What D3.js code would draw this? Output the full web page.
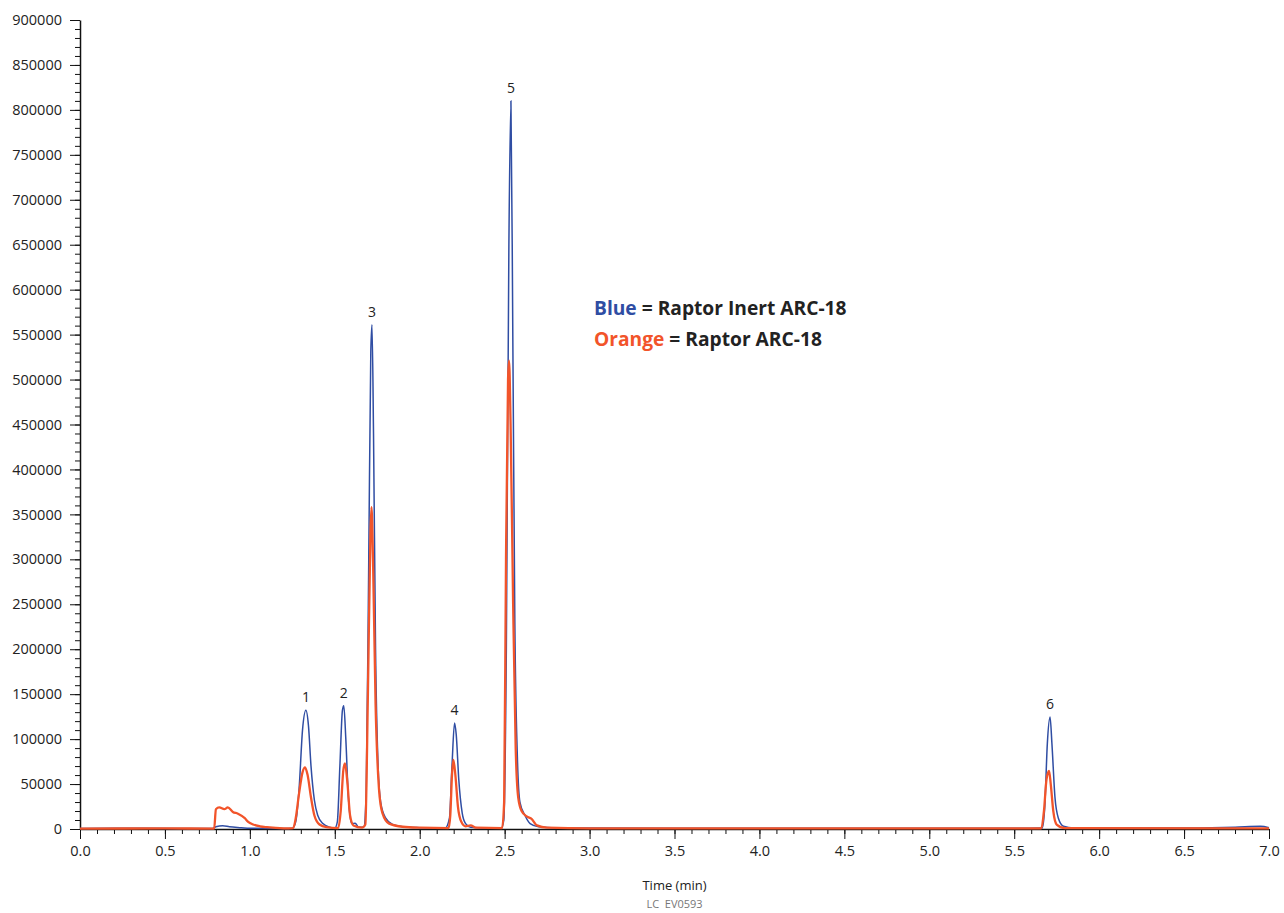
<!DOCTYPE html>
<html>
  <head>
    <meta charset="utf-8">
    <title>Raptor Inert ARC-18 vs Raptor ARC-18</title>
    <script src="https://d3js.org/d3.v7.min.js"></script>
    <style type="text/css">
    body { margin: 0; background: #fff; }
    text { font-family: "Open Sans", sans-serif; fill: #222; }
    .axis path, .axis line { stroke: #111; }
    </style>
  </head>
  <body>
  <script type="text/javascript">

    // x ticks (min) and y ticks (signal)
    var xTicks = [0, 0.5, 1.0, 1.5, 2.0, 2.5, 3.0, 3.5, 4.0, 4.5, 5.0, 5.5, 6.0, 6.5, 7.0];
    var yTicks = [0, 50000, 100000, 150000, 200000, 250000, 300000, 350000, 400000,
                  450000, 500000, 550000, 600000, 650000, 700000, 750000, 800000, 850000, 900000];

    // blue = Raptor Inert ARC-18, [time, signal]
    var blueTrace = [
      [0, 500], [0.3, 800], [0.6, 600], [0.78, 500], [0.8, 2500], [0.84, 3500], [0.88, 2500],
      [0.95, 1500], [1.0, 800], [1.2, 600], [1.25, 800], [1.27, 8000], [1.29, 45000],
      [1.31, 110000], [1.33, 132000], [1.345, 115000], [1.36, 70000], [1.38, 32000],
      [1.4, 15000], [1.43, 6000], [1.47, 2000], [1.5, 1000], [1.515, 8000], [1.53, 70000],
      [1.545, 132000], [1.553, 137000], [1.565, 100000], [1.58, 35000], [1.6, 6000],
      [1.62, 6500], [1.64, 2000], [1.67, 2000], [1.685, 40000], [1.7, 300000],
      [1.712, 530000], [1.719, 561000], [1.728, 440000], [1.74, 200000], [1.755, 70000],
      [1.77, 30000], [1.8, 12000], [1.84, 5000], [1.9, 2500], [2.0, 1500], [2.15, 1000],
      [2.175, 12000], [2.19, 70000], [2.205, 118000], [2.215, 105000], [2.23, 55000],
      [2.25, 18000], [2.27, 6000], [2.3, 2000], [2.4, 1000], [2.48, 800], [2.495, 10000],
      [2.51, 200000], [2.525, 650000], [2.537, 810000], [2.548, 550000], [2.56, 230000],
      [2.575, 80000], [2.59, 30000], [2.62, 15000], [2.65, 6000], [2.7, 2500], [2.8, 1200],
      [3.5, 800], [4.5, 700], [5.5, 700], [5.665, 1000], [5.68, 25000], [5.695, 95000],
      [5.711, 124500], [5.722, 95000], [5.74, 35000], [5.76, 12000], [5.79, 3000],
      [5.85, 1000], [6.5, 1200], [6.8, 2000], [6.95, 3000], [7.0, 1500]
    ];

    // orange = Raptor ARC-18
    var orangeTrace = [
      [0, 500], [0.5, 600], [0.79, 500], [0.8, 22000], [0.82, 24000], [0.85, 22000],
      [0.87, 24000], [0.9, 19000], [0.93, 17000], [0.97, 12000], [0.99, 8000], [1.02, 5000],
      [1.06, 3000], [1.1, 2000], [1.2, 800], [1.255, 1000], [1.27, 12000], [1.29, 40000],
      [1.31, 63000], [1.325, 68500], [1.34, 60000], [1.36, 35000], [1.38, 15000],
      [1.41, 5000], [1.45, 2000], [1.52, 1000], [1.535, 20000], [1.55, 65000], [1.56, 73000],
      [1.575, 50000], [1.59, 15000], [1.61, 4000], [1.66, 1500], [1.68, 5000],
      [1.695, 150000], [1.71, 330000], [1.716, 358000], [1.725, 300000], [1.74, 140000],
      [1.76, 45000], [1.78, 18000], [1.82, 6000], [1.9, 2500], [2.0, 1500], [2.17, 1000],
      [2.18, 15000], [2.19, 60000], [2.198, 77000], [2.21, 60000], [2.225, 25000],
      [2.245, 8000], [2.27, 3000], [2.3, 4000], [2.33, 1500], [2.485, 1000], [2.497, 30000],
      [2.508, 300000], [2.52, 500000], [2.526, 521000], [2.535, 450000], [2.55, 250000],
      [2.565, 90000], [2.58, 35000], [2.6, 20000], [2.63, 14000], [2.66, 11000],
      [2.69, 4000], [2.75, 1500], [3.0, 800], [5.66, 800], [5.675, 20000], [5.69, 55000],
      [5.705, 64500], [5.715, 50000], [5.73, 20000], [5.75, 5000], [5.8, 1000], [7.0, 800]
    ];

    // peak numbers, placed over the blue apex
    var peakNames = ["1", "2", "3", "4", "5", "6"];
    var peakTimes = [1.33, 1.553, 1.719, 2.205, 2.537, 5.711];
    var peakTops  = [132000, 137000, 561000, 118000, 810000, 124500];

    var width = 1284, height = 913;
    var margin = {top: 20, right: 15, bottom: 84, left: 80};

    var svg = d3.select("body").append("svg")
      .attr("width", width)
      .attr("height", height);

    var x = d3.scaleLinear().domain([0, 7]).range([margin.left, width - margin.right]);
    var y = d3.scaleLinear().domain([0, 900000]).range([height - margin.bottom, margin.top]);

    // minor ticks first, then the major ones with labels
    svg.append("g")
      .attr("class", "axis")
      .attr("transform", "translate(0," + y(0) + ")")
      .call(d3.axisBottom(x).ticks(70).tickSize(5).tickFormat(""))
      .call(function(g){ g.select(".domain").remove(); });

    svg.append("g")
      .attr("class", "axis")
      .attr("transform", "translate(" + x(0) + ",0)")
      .call(d3.axisLeft(y).ticks(90).tickSize(5).tickFormat(""))
      .call(function(g){ g.select(".domain").remove(); });

    var xAxis = svg.append("g")
      .attr("class", "axis")
      .attr("transform", "translate(0," + y(0) + ")")
      .call(d3.axisBottom(x).tickValues(xTicks).tickSize(10).tickSizeOuter(0).tickFormat(d3.format(".1f")));
    xAxis.selectAll("text").style("font-size", "14.5px").attr("dy", "0.95em");
    xAxis.select(".domain").style("stroke-width", "1.5px");

    var yAxis = svg.append("g")
      .attr("class", "axis")
      .attr("transform", "translate(" + x(0) + ",0)")
      .call(d3.axisLeft(y).tickValues(yTicks).tickSize(10).tickSizeOuter(0).tickFormat(d3.format("d")));
    yAxis.selectAll("text").style("font-size", "14.5px").attr("x", -18);
    yAxis.select(".domain").style("stroke-width", "1.5px");

    var line = d3.line()
      .x(function(d){ return x(d[0]); })
      .y(function(d){ return y(d[1]); })
      .curve(d3.curveMonotoneX);

    svg.append("path")
      .datum(blueTrace)
      .attr("fill", "none")
      .attr("stroke", "#2f4da3")
      .attr("stroke-width", 1.5)
      .attr("d", line);

    svg.append("path")
      .datum(orangeTrace)
      .attr("fill", "none")
      .attr("stroke", "#f2542a")
      .attr("stroke-width", 2.3)
      .attr("d", line);

    svg.selectAll(".peak")
      .data(peakNames)
      .enter().append("text")
      .attr("class", "peak")
      .attr("x", function(d, i){ return x(peakTimes[i]); })
      .attr("y", function(d, i){ return y(peakTops[i]) - 8; })
      .attr("text-anchor", "middle")
      .style("font-size", "14px")
      .text(function(d){ return d; });

    // legend
    var legend = svg.append("g").attr("transform", "translate(594,0)");
    var l1 = legend.append("text").attr("y", 315).style("font-size", "19.2px").style("font-weight", "700");
    l1.append("tspan").style("fill", "#2f4da3").text("Blue");
    l1.append("tspan").style("fill", "#222").text(" = Raptor Inert ARC-18");
    var l2 = legend.append("text").attr("y", 346).style("font-size", "19.2px").style("font-weight", "700");
    l2.append("tspan").style("fill", "#f2542a").text("Orange");
    l2.append("tspan").style("fill", "#222").text(" = Raptor ARC-18");

    svg.append("text")
      .attr("x", x(3.5))
      .attr("y", 890)
      .attr("text-anchor", "middle")
      .style("font-size", "13px")
      .text("Time (min)");

    svg.append("text")
      .attr("x", x(3.5))
      .attr("y", 908)
      .attr("text-anchor", "middle")
      .attr("xml:space", "preserve")
      .style("font-size", "11px")
      .style("fill", "#777")
      .text("LC  EV0593");

  </script>
  </body>
</html>
